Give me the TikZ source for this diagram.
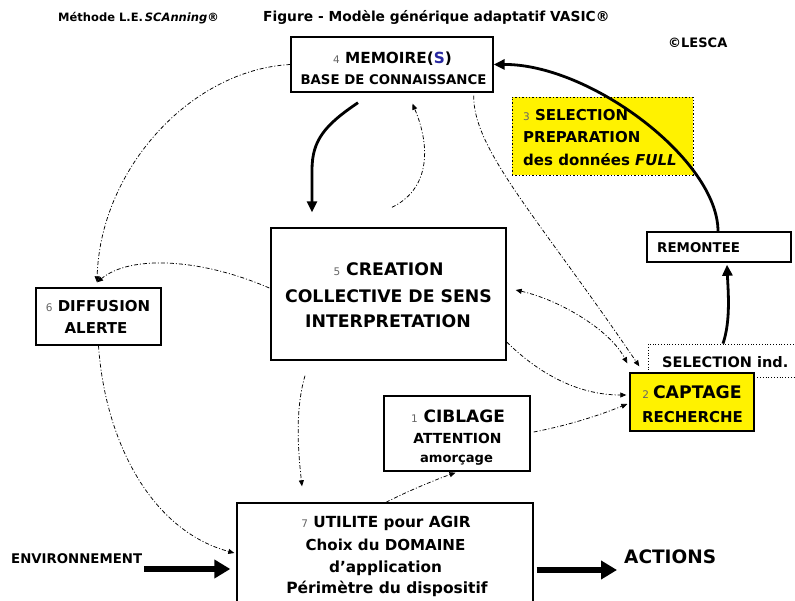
\documentclass[tikz,border=0pt]{standalone}
\usepackage{fontspec}
\setmainfont{DejaVu Sans}
\usetikzlibrary{arrows.meta}
\definecolor{numgray}{gray}{0.4}
\definecolor{sblue}{RGB}{40,40,160}
\newcommand\fsz[1]{\fontsize{#1}{#1}\selectfont}
\newcommand\smallnum[1]{{\fontsize{10.5}{10.5}\selectfont\mdseries\color{numgray}#1}}
\begin{document}
\begin{tikzpicture}[x=1pt,y=-1pt,
  box/.style={draw, line width=1.4pt, inner sep=0pt, fill=white},
  txt/.style={anchor=base, inner sep=0pt},
  txtl/.style={anchor=base west, inner sep=0pt},
  thickarr/.style={line width=2.8pt, -{Triangle[length=11pt,width=10pt]}},
  dd/.style={line width=0.75pt, dash pattern=on 4pt off 2pt on 1pt off 2pt},
  ddarr/.style={dd, -{Triangle[length=6pt,width=5pt]}},
  ddboth/.style={dd, {Triangle[length=6pt,width=5pt]}-{Triangle[length=6pt,width=5pt]}},
  bigarr/.style={line width=6.5pt, -{Triangle[length=16pt,width=18pt]}}]
\useasboundingbox (0,0) rectangle (795,601);
\fill[white] (0,0) rectangle (795,601);

% header
\node[txtl, font=\bfseries\fsz{11.5}] (meth) at (58,22) {Méthode L.E.\,\textit{SCAnning}®};
\node[txtl, font=\bfseries\fsz{13.8}] (title) at (263,22) {Figure - Modèle générique adaptatif VASIC®};
\node[txtl, font=\bfseries\fsz{13}] (lesca) at (668,48) {©LESCA};

% boxes
\node[box, minimum width=202pt, minimum height=55pt] (mem) at (392,64.5) {};
\node[box, fill=yellow, dotted, line width=0.8pt, minimum width=181pt, minimum height=78pt] (prep) at (602.5,136) {};
\node[box, minimum width=144pt, minimum height=30pt] (rem) at (719,247) {};
\node[draw, dotted, line width=0.8pt, minimum width=157pt, minimum height=33pt, inner sep=0pt] (selbox) at (726.5,360.5) {};
\node[box, fill=yellow, minimum width=124pt, minimum height=58pt] (capt) at (692,402) {};
\node[box, minimum width=235pt, minimum height=132pt] (crea) at (388.5,294) {};
\node[box, minimum width=125pt, minimum height=57pt] (diff) at (98.5,316.5) {};
\node[box, minimum width=146pt, minimum height=75pt] (cib) at (457,433.5) {};
\node[box, minimum width=296pt, minimum height=112pt] (util) at (385,559) {};

% texts
\node[txt, font=\bfseries\fsz{15.3}] (mem1) at (392.5,64) {\smallnum{4} MEMOIRE({\color{sblue}S})};
\node[txt, font=\bfseries\fsz{13.3}] (mem2) at (393.5,85) {BASE DE CONNAISSANCE};
\node[txtl, font=\bfseries\fsz{15}] (prep1) at (523,121) {\smallnum{3} SELECTION};
\node[txtl, font=\bfseries\fsz{15}] (prep2) at (523,143) {PREPARATION};
\node[txtl, font=\bfseries\fsz{15}] (prep3) at (523,166) {des données \textit{FULL}};
\node[txtl, font=\bfseries\fsz{13.4}] (remt) at (657,253) {REMONTEE};
\node[txtl, font=\bfseries\fsz{14.5}] (selt) at (662,368) {SELECTION ind.};
\node[txt, font=\bfseries\fsz{17.3}] (capt1) at (692,399) {\smallnum{2}\hspace{4pt}CAPTAGE};
\node[txt, font=\bfseries\fsz{15}] (capt2) at (692.5,422) {RECHERCHE};
\node[txt, font=\bfseries\fsz{17.3}] (crea1) at (388.5,276) {\smallnum{5} CREATION};
\node[txt, font=\bfseries\fsz{17.3}] (crea2) at (388.5,303) {COLLECTIVE DE SENS};
\node[txt, font=\bfseries\fsz{17.3}] (crea3) at (388,328) {INTERPRETATION};
\node[txt, font=\bfseries\fsz{15}] (diff1) at (98,312) {\smallnum{6} DIFFUSION};
\node[txt, font=\bfseries\fsz{15}] (diff2) at (96,334) {ALERTE};
\node[txt, font=\bfseries\fsz{17}] (cib1) at (458,422) {\smallnum{1} CIBLAGE};
\node[txt, font=\bfseries\fsz{13.9}] (cib2) at (457.5,443) {ATTENTION};
\node[txt, font=\bfseries\fsz{13.1}] (cib3) at (456.5,462) {amorçage};
\node[txt, font=\bfseries\fsz{15.3}] (util1) at (386,527) {\smallnum{7} UTILITE pour AGIR};
\node[txt, font=\bfseries\fsz{15.1}] (util2) at (385.5,550) {Choix du DOMAINE};
\node[txt, font=\bfseries\fsz{15.3}] (util3) at (385.5,572) {d’application};
\node[txt, font=\bfseries\fsz{15.5}] (util4) at (387,593) {Périmètre du dispositif};
\node[txtl, font=\bfseries\fsz{13.3}] (env) at (11,563) {ENVIRONNEMENT};
\node[txtl, font=\bfseries\fsz{18.5}] (act) at (624,563) {ACTIONS};

% thick connectors
\draw[thickarr] ([shift={(-1,0)}]rem.north) .. controls (718,160) and (590,64) .. (mem.east);
\draw[thickarr] ([shift={(-3.5,0)}]selbox.north) .. controls (731,320) and (728,290) .. ([shift={(8,2)}]rem.south);
\draw[thickarr] ([shift={(-34,10)}]mem.south) .. controls (325,125) and (312,140) .. (312,170) -- ([shift={(-76.5,-15)}]crea.north);

% dash-dot connectors
\draw[ddarr] ([shift={(3.5,-20)}]crea.north) .. controls (428,190) and (432,150) .. ([shift={(20.5,11)}]mem.south);
\draw[ddarr] ([shift={(-20,3)}]mem.south east) .. controls (473,150) and (540,220) .. ([shift={(10,-6)}]capt.north west);
\draw[ddboth] ([shift={(9,-4)}]crea.east) .. controls (560,300) and (610,330) .. ([shift={(-2,-9)}]capt.north west);
\draw[ddarr] ([shift={(0,48)}]crea.east) .. controls (530,365) and (570,395) .. ([shift={(-3,-7)}]capt.west);
\draw[ddarr] ([shift={(3,-1.5)}]cib.east) .. controls (570,425) and (600,415) .. ([shift={(-2,2)}]capt.west);
\draw[ddarr] ([shift={(1,0)}]util.north) .. controls (410,490) and (440,478) .. ([shift={(-1.5,1)}]cib.south);
\draw[ddarr] ([shift={(-83.5,15)}]crea.south) .. controls (295,410) and (298,450) .. ([shift={(-83,-16)}]util.north);
\draw[ddarr] (diff.south) .. controls (105,440) and (150,530) .. ([shift={(-2,-6)}]util.west);
\draw[ddarr] (mem.west) .. controls (190,70) and (100,170) .. ([shift={(-1.5,-5)}]diff.north);
\draw[ddarr] ([shift={(-1,-6)}]crea.west) .. controls (200,258) and (130,255) .. ([shift={(-1.5,-5)}]diff.north);

% big arrows
\draw[bigarr] ([shift={(2,6)}]env.base east) -- ([shift={(-6,10)}]util.west);
\draw[bigarr] ([shift={(3,11)}]util.east) -- ([shift={(-7,7)}]act.base west);
\end{tikzpicture}
\end{document}
